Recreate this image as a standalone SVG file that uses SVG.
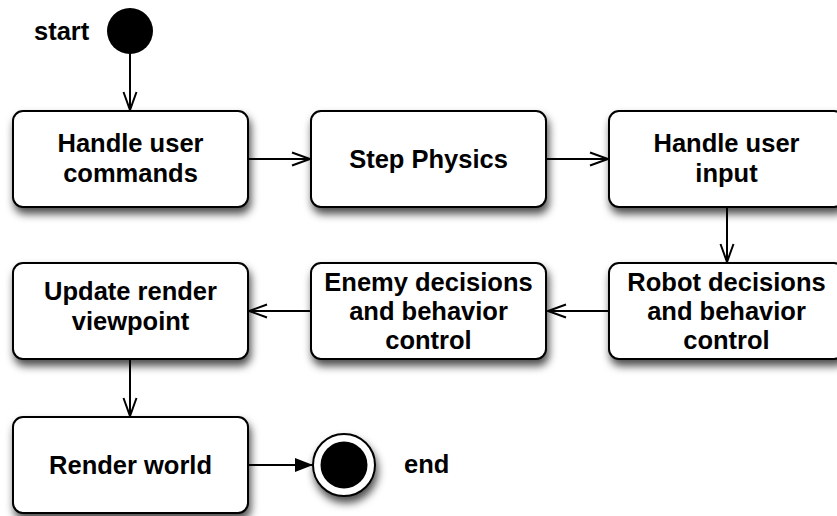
<svg xmlns="http://www.w3.org/2000/svg" width="837" height="516" viewBox="0 0 837 516">
  <style>
    .box { fill: #fff; stroke: #000; stroke-width: 2; filter: url(#shadow); }
    .lbl { font-family: "Liberation Sans", Arial, Helvetica, sans-serif; font-weight: bold; font-size: 25.5px; fill: #000; text-anchor: middle; }
    .tag { font-family: "Liberation Sans", Arial, Helvetica, sans-serif; font-weight: bold; font-size: 25.5px; fill: #000; }
    .edge { fill: none; stroke: #000; stroke-width: 2; }
  </style>
  <defs>
    <filter id="shadow" x="-20%" y="-20%" width="140%" height="150%">
      <feDropShadow dx="2" dy="6" stdDeviation="4" flood-color="#000" flood-opacity="0.7"/>
    </filter>
    <marker id="open" markerWidth="22" markerHeight="18" refX="19" refY="8" orient="auto" markerUnits="userSpaceOnUse">
      <path d="M1,1.5 L19,8 L1,14.5" fill="none" stroke="#000" stroke-width="2"/>
    </marker>
    <marker id="solid" markerWidth="20" markerHeight="16" refX="18" refY="7.5" orient="auto" markerUnits="userSpaceOnUse">
      <path d="M0,0.5 L18,7.5 L0,14.5 Z" fill="#000"/>
    </marker>
  </defs>

  <rect width="837" height="516" fill="#fff"/>

  <!-- connectors -->
  <g id="connectors">
    <line class="edge" x1="130" y1="53" x2="130" y2="110" marker-end="url(#open)"/>
    <line class="edge" x1="248" y1="159" x2="310" y2="159" marker-end="url(#open)"/>
    <line class="edge" x1="546" y1="159" x2="608" y2="159" marker-end="url(#open)"/>
    <line class="edge" x1="727" y1="207" x2="727" y2="262" marker-end="url(#open)"/>
    <line class="edge" x1="609" y1="311" x2="548" y2="311" marker-end="url(#open)"/>
    <line class="edge" x1="311" y1="311" x2="249" y2="311" marker-end="url(#open)"/>
    <line class="edge" x1="130" y1="359" x2="130" y2="416" marker-end="url(#open)"/>
    <line class="edge" x1="248" y1="465" x2="313" y2="465" marker-end="url(#solid)"/>
  </g>

  <!-- start -->
  <g id="start">
    <circle cx="130" cy="31" r="23" fill="#000"/>
    <text class="tag" x="34" y="40">start</text>
  </g>

  <g id="handle-commands">
    <rect class="box" x="13" y="111" width="235" height="96" rx="10"/>
    <text class="lbl" x="130.5" y="152">Handle user</text>
    <text class="lbl" x="130.5" y="182">commands</text>
  </g>

  <g id="step-physics">
    <rect class="box" x="311" y="111" width="235" height="96" rx="10"/>
    <text class="lbl" x="428.5" y="168">Step Physics</text>
  </g>

  <g id="handle-input">
    <rect class="box" x="609" y="111" width="235" height="96" rx="10"/>
    <text class="lbl" x="726.5" y="152">Handle user</text>
    <text class="lbl" x="726.5" y="182">input</text>
  </g>

  <g id="robot">
    <rect class="box" x="609" y="263" width="235" height="96" rx="10"/>
    <text class="lbl" x="726.5" y="291">Robot decisions</text>
    <text class="lbl" x="726.5" y="320">and behavior</text>
    <text class="lbl" x="726.5" y="349">control</text>
  </g>

  <g id="enemy">
    <rect class="box" x="311" y="263" width="235" height="96" rx="10"/>
    <text class="lbl" x="428.5" y="291">Enemy decisions</text>
    <text class="lbl" x="428.5" y="320">and behavior</text>
    <text class="lbl" x="428.5" y="349">control</text>
  </g>

  <g id="update-viewpoint">
    <rect class="box" x="13" y="263" width="235" height="96" rx="10"/>
    <text class="lbl" x="130.5" y="300">Update render</text>
    <text class="lbl" x="130.5" y="330">viewpoint</text>
  </g>

  <g id="render-world">
    <rect class="box" x="13" y="417" width="235" height="96" rx="10"/>
    <text class="lbl" x="130.5" y="474">Render world</text>
  </g>

  <!-- end -->
  <g id="end">
    <circle cx="344" cy="465" r="31" fill="#fff" stroke="#000" stroke-width="2" filter="url(#shadow)"/>
    <circle cx="344" cy="465" r="23.5" fill="#000"/>
    <text class="tag" x="404" y="473">end</text>
  </g>
</svg>
